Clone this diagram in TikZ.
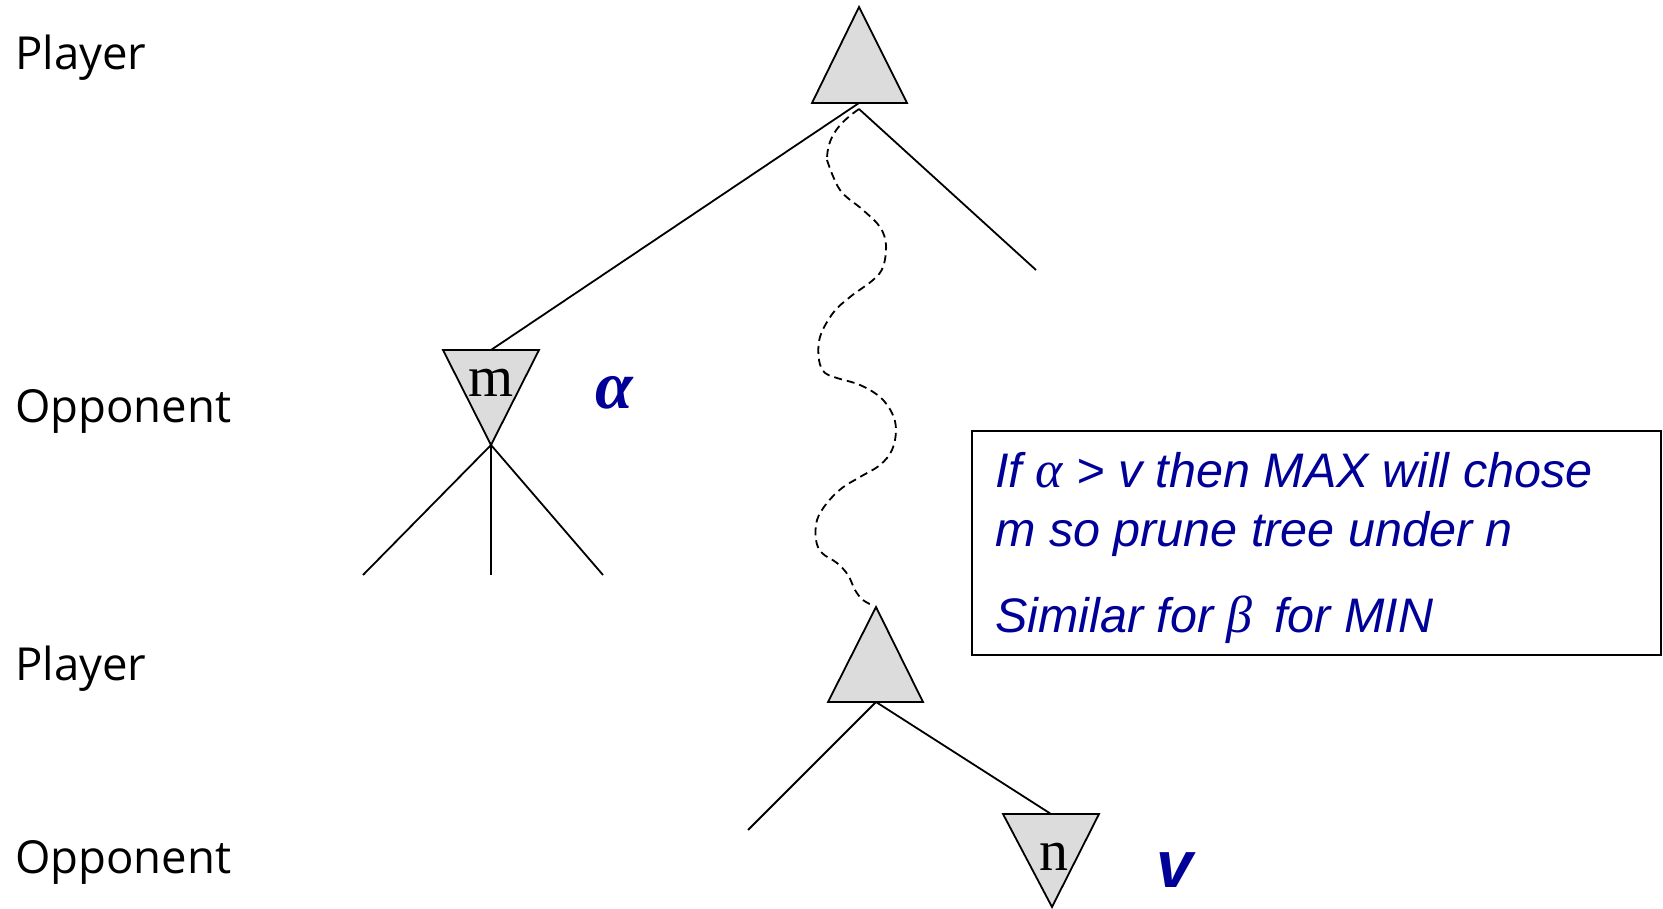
\documentclass[tikz,border=0pt]{standalone}
\usepackage{fontspec}
\setmainfont{Liberation Sans}
\newfontfamily\labfont{Open Sans}
\newfontfamily\serifont{Liberation Serif}
\definecolor{txtblue}{RGB}{0,0,153}
\definecolor{trigray}{RGB}{220,220,220}
\begin{document}
\begin{tikzpicture}[x=1pt,y=-1pt,
  edge/.style={line width=1.8pt},
  tri/.style={line width=1.8pt, fill=trigray, line join=miter},
  lab/.style={inner sep=0, font=\labfont\fontsize{45.5}{56}\selectfont},
  boxtxt/.style={inner sep=0, anchor=base west, text=txtblue, font=\itshape\fontsize{48.5}{59}\selectfont},
  letter/.style={inner sep=0, anchor=base, font=\serifont\fontsize{58}{60}\selectfont}]
\useasboundingbox (0,0) rectangle (1663,909);
% triangles
\draw[tri] (812,103) -- (859,7) -- (907,103) -- cycle;
\coordinate (t1) at (859,103);
\coordinate (t1r) at (859,109);
\draw[tri] (443,350) -- (539,350) -- (491,445) -- cycle;
\coordinate (mtop) at (491,350);
\coordinate (mbot) at (491,445);
\draw[tri] (828,702) -- (876,607) -- (923,702) -- cycle;
\coordinate (p2top) at (876,607);
\coordinate (p2) at (876,702);
\draw[tri] (1003,814) -- (1099,814) -- (1052,907) -- cycle;
\coordinate (ntop) at (1051,814);
% leaf ends
\coordinate (r1) at (1036,270);
\coordinate (l1) at (363,575);
\coordinate (l2) at (491,575);
\coordinate (l3) at (603,575);
\coordinate (l4) at (748,830);
% edges
\draw[edge] (t1) -- (mtop);
\draw[edge] (t1r) -- (r1);
\draw[edge] (mbot) -- (l1);
\draw[edge] (mbot) -- (l2);
\draw[edge] (mbot) -- (l3);
\draw[edge] (p2) -- (l4);
\draw[edge] (p2) -- (ntop);
% wavy dashed path
\draw[line width=1.8pt, dash pattern=on 8pt off 5pt] (t1r) to[out=-145,in=90] (827,160)
  plot[smooth, tension=0.6] coordinates {(827,160) (840,190) (863,210) (880,227) (886,245) (883,267) (873,280) (850,297) (833,313) (820,337) (819,360) (825,373) (837,378) (860,385) (880,397) (892,413) (896,430) (892,450) (880,465) (860,477) (842,488) (827,503) (817,520) (816,540) (822,553) (837,563) (848,575) (855,590) (863,600) (874,606)};
% letters
\node[letter] (m) at (491,396) {m};
\node[letter] (n) at (1054,870) {n};
\node[inner sep=0, anchor=base, text=txtblue, font=\serifont\bfseries\itshape\fontsize{68}{70}\selectfont] (alpha) at (614,408) {α};
\node[inner sep=0, anchor=base, text=txtblue, font=\bfseries\itshape\fontsize{66}{70}\selectfont] (v) at (1175,887) {v};
% side labels
\node[lab, anchor=base west] (pl1) at (15,70) {Player};
\node[lab, anchor=base west] (op1) at (15,422) {Opponent};
\node[lab, anchor=base west] (pl2) at (15,680) {Player};
\node[lab, anchor=base west] (op2) at (15,873) {Opponent};
% box
\node[draw, line width=1.8pt, anchor=north west, minimum width=689pt, minimum height=224pt, inner sep=0] (box) at (971,430) {};
\node[boxtxt] (t1txt) at (995,487) {If {\serifont\fontsize{52}{59}\selectfont α} > v then MAX will chose};
\node[boxtxt] (t2txt) at (995,546) {m so prune tree under n};
\node[boxtxt] (t3txt) at (995,632) {Similar for {\serifont\fontsize{52}{59}\selectfont β}\, for MIN};
\end{tikzpicture}
\end{document}
